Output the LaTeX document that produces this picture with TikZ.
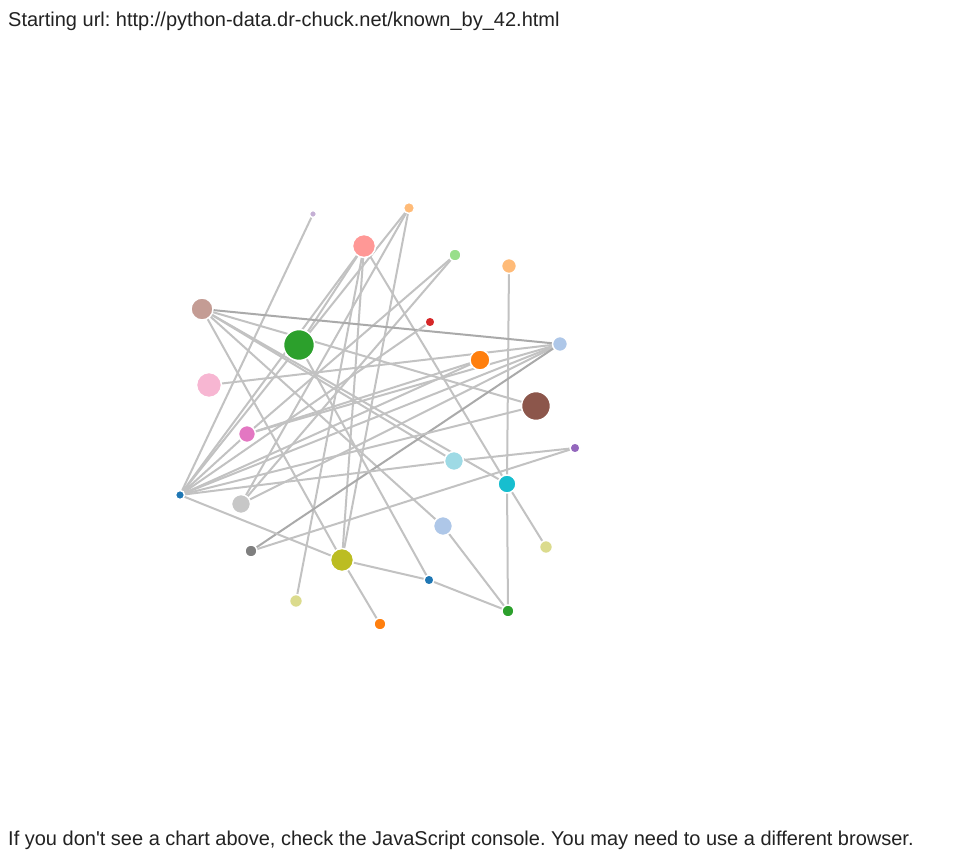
\documentclass[tikz,border=0pt]{standalone}
\usepackage{fontspec}
\setmainfont{Liberation Sans}
\frenchspacing
\definecolor{c1f77b4}{HTML}{1F77B4}
\definecolor{caec7e8}{HTML}{AEC7E8}
\definecolor{cff7f0e}{HTML}{FF7F0E}
\definecolor{cffbb78}{HTML}{FFBB78}
\definecolor{c2ca02c}{HTML}{2CA02C}
\definecolor{c98df8a}{HTML}{98DF8A}
\definecolor{cd62728}{HTML}{D62728}
\definecolor{cff9896}{HTML}{FF9896}
\definecolor{c9467bd}{HTML}{9467BD}
\definecolor{cc5b0d5}{HTML}{C5B0D5}
\definecolor{c8c564b}{HTML}{8C564B}
\definecolor{cc49c94}{HTML}{C49C94}
\definecolor{ce377c2}{HTML}{E377C2}
\definecolor{cf7b6d2}{HTML}{F7B6D2}
\definecolor{c7f7f7f}{HTML}{7F7F7F}
\definecolor{cc7c7c7}{HTML}{C7C7C7}
\definecolor{cbcbd22}{HTML}{BCBD22}
\definecolor{cdbdb8d}{HTML}{DBDB8D}
\definecolor{c17becf}{HTML}{17BECF}
\definecolor{c9edae5}{HTML}{9EDAE5}
\definecolor{linkc}{HTML}{C2C2C2}
\definecolor{linkd}{HTML}{AAAAAA}
\definecolor{txtc}{HTML}{222222}
\tikzset{
  nd/.style={circle,draw=white,line width=1.5pt,inner sep=0pt},
  ln/.style={draw=linkc,line width=2pt},
  lnd/.style={draw=linkd,line width=2pt},
  txt/.style={anchor=base west,inner sep=0pt,font=\fontsize{20pt}{24pt}\selectfont,text=txtc}
}
\begin{document}
\begin{tikzpicture}[x=1pt,y=-1pt]
\useasboundingbox[fill=white] (0,0) rectangle (970,862);
\node[txt] (top) at (8,26) {Starting url: http://python-data.dr-chuck.net/known\_by\_42.html};
\node[txt] (bot) at (8,845) {If you don\textquotesingle t see a chart above, check the JavaScript console. You may need to use a different browser.};
% node positions
\coordinate (p1) at (313,214);
\coordinate (p2) at (409,208);
\coordinate (p3) at (364,246);
\coordinate (p4) at (455,255);
\coordinate (p5) at (509,266);
\coordinate (p6) at (202,309);
\coordinate (p7) at (430,322);
\coordinate (p8) at (299,345);
\coordinate (p9) at (560,344);
\coordinate (p10) at (480,360);
\coordinate (p11) at (209,385);
\coordinate (p12) at (536,406);
\coordinate (p13) at (247,434);
\coordinate (p14) at (575,448);
\coordinate (p15) at (454,461);
\coordinate (p16) at (507,484);
\coordinate (p17) at (180,495);
\coordinate (p18) at (241,504);
\coordinate (p19) at (443,526);
\coordinate (p20) at (546,547);
\coordinate (p21) at (251,551);
\coordinate (p22) at (342,560);
\coordinate (p23) at (429,580);
\coordinate (p24) at (296,601);
\coordinate (p25) at (508,611);
\coordinate (p26) at (380,624);
% links
\draw[ln] (p1) -- (p17);
\draw[ln] (p2) -- (p17);
\draw[ln] (p2) -- (p18);
\draw[ln] (p2) -- (p22);
\draw[ln] (p3) -- (p8);
\draw[ln] (p3) -- (p22);
\draw[ln] (p3) -- (p24);
\draw[ln] (p3) -- (p16);
\draw[ln] (p3) -- (p17);
\draw[ln] (p4) -- (p18);
\draw[ln] (p4) -- (p13);
\draw[ln] (p13) -- (p17);
\draw[ln] (p5) -- (p16);
\draw[lnd] (p6) -- (p9);
\draw[ln] (p6) -- (p12);
\draw[ln] (p6) -- (p15);
\draw[ln] (p6) -- (p16);
\draw[ln] (p6) -- (p22);
\draw[ln] (p6) -- (p19);
\draw[ln] (p7) -- (p17);
\draw[ln] (p8) -- (p23);
\draw[ln] (p9) -- (p11);
\draw[ln] (p9) -- (p13);
\draw[ln] (p9) -- (p17);
\draw[ln] (p9) -- (p18);
\draw[lnd] (p9) -- (p21);
\draw[ln] (p10) -- (p13);
\draw[ln] (p10) -- (p17);
\draw[ln] (p12) -- (p17);
\draw[ln] (p14) -- (p15);
\draw[ln] (p14) -- (p21);
\draw[ln] (p15) -- (p17);
\draw[ln] (p16) -- (p25);
\draw[ln] (p16) -- (p20);
\draw[ln] (p19) -- (p25);
\draw[ln] (p22) -- (p17);
\draw[ln] (p22) -- (p23);
\draw[ln] (p22) -- (p26);
\draw[ln] (p23) -- (p25);
% node circles
\node[nd,fill=cc5b0d5,minimum size=7pt] (n1) at (p1) {};
\node[nd,fill=cffbb78,minimum size=11pt] (n2) at (p2) {};
\node[nd,fill=cff9896,minimum size=23pt] (n3) at (p3) {};
\node[nd,fill=c98df8a,minimum size=12pt] (n4) at (p4) {};
\node[nd,fill=cffbb78,minimum size=15pt] (n5) at (p5) {};
\node[nd,fill=cc49c94,minimum size=22pt] (n6) at (p6) {};
\node[nd,fill=cd62728,minimum size=10pt] (n7) at (p7) {};
\node[nd,fill=c2ca02c,minimum size=31pt] (n8) at (p8) {};
\node[nd,fill=caec7e8,minimum size=15pt] (n9) at (p9) {};
\node[nd,fill=cff7f0e,minimum size=20pt] (n10) at (p10) {};
\node[nd,fill=cf7b6d2,minimum size=25pt] (n11) at (p11) {};
\node[nd,fill=c8c564b,minimum size=29pt] (n12) at (p12) {};
\node[nd,fill=ce377c2,minimum size=17pt] (n13) at (p13) {};
\node[nd,fill=c9467bd,minimum size=10pt] (n14) at (p14) {};
\node[nd,fill=c9edae5,minimum size=19pt] (n15) at (p15) {};
\node[nd,fill=c17becf,minimum size=18pt] (n16) at (p16) {};
\node[nd,fill=c1f77b4,minimum size=9pt] (n17) at (p17) {};
\node[nd,fill=cc7c7c7,minimum size=19pt] (n18) at (p18) {};
\node[nd,fill=caec7e8,minimum size=19pt] (n19) at (p19) {};
\node[nd,fill=cdbdb8d,minimum size=13pt] (n20) at (p20) {};
\node[nd,fill=c7f7f7f,minimum size=12pt] (n21) at (p21) {};
\node[nd,fill=cbcbd22,minimum size=23pt] (n22) at (p22) {};
\node[nd,fill=c1f77b4,minimum size=10pt] (n23) at (p23) {};
\node[nd,fill=cdbdb8d,minimum size=13pt] (n24) at (p24) {};
\node[nd,fill=c2ca02c,minimum size=12pt] (n25) at (p25) {};
\node[nd,fill=cff7f0e,minimum size=12pt] (n26) at (p26) {};
\end{tikzpicture}
\end{document}
